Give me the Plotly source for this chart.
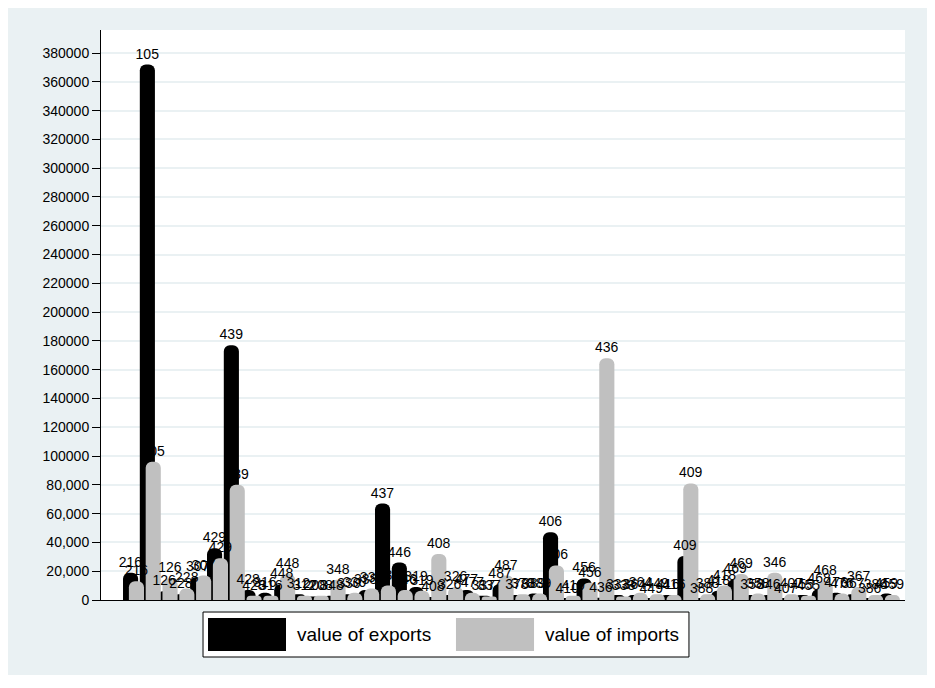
import plotly.graph_objects as go

# Dados (códigos dos países e valores)
codigos = [216, 105, 126, 228, 307, 429, 439, 428, 316, 448,
           312, 208, 348, 330, 338, 437, 446, 319, 408, 326,
           477, 337, 487, 378, 389, 406, 410, 456, 436, 333,
           364, 449, 416, 409, 388, 418, 469, 358, 346, 407,
           455, 468, 476, 367, 386, 459]

exportacoes = [19000, 372000, 6000, 4000, 16000, 36000, 177000, 7000, 5000, 11000,
               4000, 2500, 3000, 4000, 7000, 67000, 26000, 9000, 2000, 3500,
               7000, 3000, 11000, 3500, 4500, 47000, 800, 15000, 1500, 3500,
               3500, 1000, 3500, 30500, 1000, 6500, 14500, 3500, 3500, 1000,
               3500, 7500, 5000, 4000, 1000, 4500]

importacoes = [13000, 96000, 15000, 8000, 17000, 29000, 80000, 3000, 3000, 18000,
               3000, 3000, 14000, 5000, 8000, 10000, 7000, 6500, 32000, 9000,
               5000, 2500, 17000, 4000, 4500, 24000, 3000, 12000, 168000, 2500,
               5000, 4000, 3500, 81000, 4000, 10000, 18000, 4500, 19000, 4000,
               3000, 13000, 4500, 9000, 3500, 3500]

marcas_y = list(range(0, 380001, 20000))
rotulos_y = ["0", "20,000", "40,000", "60,000", "80,000"] + [str(v) for v in marcas_y[5:]]

nomes = [str(c) for c in codigos]
fonte = "Liberation Sans, Arial, sans-serif"
fundo = "#eaf1f3"

series = [
    ("value of exports", exportacoes, "black", -0.55),
    ("value of imports", importacoes, "#c0c0c0", -0.2),
]

fig = go.Figure()

# primeiro as barras
for nome, valores, cor, desloc in series:
    fig.add_trace(go.Bar(
        x=nomes, y=valores, name=nome,
        marker=dict(color=cor, cornerradius=6, line=dict(width=0)),
        offset=desloc, width=0.9,
    ))

# depois os rótulos, por cima de todas as barras
for nome, valores, cor, desloc in series:
    fig.add_trace(go.Bar(
        x=nomes, y=valores, name=nome, hoverinfo="skip",
        marker=dict(color="rgba(0,0,0,0)", line=dict(width=0)),
        offset=desloc, width=0.9,
        text=nomes, textposition="outside", textangle=0,
        constraintext="none", cliponaxis=False,
        textfont=dict(family=fonte, size=14, color="black"),
    ))

# Fundo externo e área branca do gráfico
formas = [
    dict(type="rect", xref="paper", yref="paper", x0=-0.117, x1=1.0286,
         y0=-0.1316, y1=1.0439, fillcolor=fundo, line=dict(width=0), layer="below"),
    dict(type="rect", xref="paper", yref="paper", x0=0, x1=1, y0=0, y1=1,
         fillcolor="white", line=dict(width=0), layer="below"),
    # caixa da legenda
    dict(type="rect", xref="paper", yref="paper", x0=0.1269, x1=0.7313,
         y0=-0.1, y1=-0.0211, fillcolor="white", line=dict(color="black", width=1)),
    dict(type="rect", xref="paper", yref="paper", x0=0.1331, x1=0.2301,
         y0=-0.0895, y1=-0.0316, fillcolor="black", line=dict(width=0)),
    dict(type="rect", xref="paper", yref="paper", x0=0.4415, x1=0.5386,
         y0=-0.0895, y1=-0.0316, fillcolor="#c0c0c0", line=dict(width=0)),
]

anotacoes = [
    dict(text="value of exports", xref="paper", yref="paper", x=0.2413, y=-0.0605,
         xanchor="left", yanchor="middle", showarrow=False,
         font=dict(family=fonte, size=19, color="black")),
    dict(text="value of imports", xref="paper", yref="paper", x=0.5498, y=-0.0605,
         xanchor="left", yanchor="middle", showarrow=False,
         font=dict(family=fonte, size=19, color="black")),
]

# a página tem 8px de margem, por isso a figura é um pouco menor
fig.update_layout(
    width=927, height=680,
    margin=dict(l=93, r=30, t=22, b=88),
    barmode="overlay",
    paper_bgcolor="white",
    plot_bgcolor="rgba(0,0,0,0)",
    showlegend=False,
    shapes=formas,
    annotations=anotacoes,
    font=dict(family=fonte, size=14, color="black"),
)

fig.update_yaxes(
    range=[0, 396000], tickvals=marcas_y, ticktext=rotulos_y,
    showline=True, linecolor="black", linewidth=1,
    ticks="outside", ticklen=8, tickcolor="black",
    showgrid=True, gridcolor=fundo, gridwidth=2, zeroline=False,
    tickfont=dict(family=fonte, size=14, color="black"),
)

fig.update_xaxes(
    type="category", range=[-1.86, 46.0],
    showticklabels=False, ticks="", showgrid=False,
    showline=True, linecolor="black", linewidth=1,
)

fig.write_html("out.html")
